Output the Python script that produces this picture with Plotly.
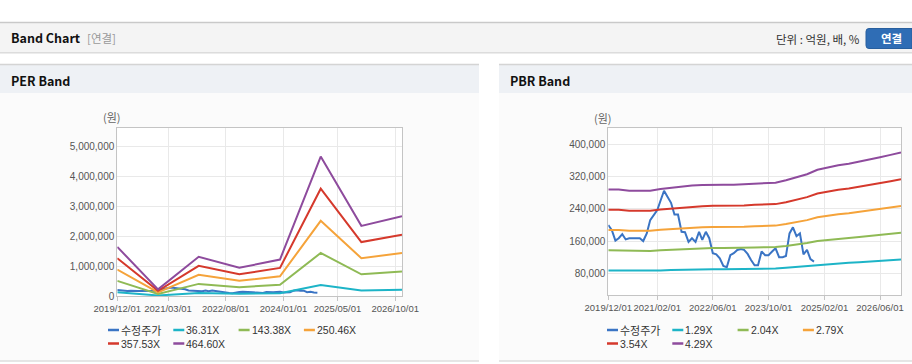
import plotly.graph_objects as go
import pandas as pd

W, H = 912, 364

# ---------------- data ----------------
per_dates = ['2019-12-01', '2020-12-01', '2021-12-01', '2022-12-01',
             '2023-12-01', '2024-12-01', '2025-12-01', '2026-12-01']
per_36_31 = [128000, 17000, 102000, 74000, 95000, 364000, 183000, 208000]
per_143_38 = [506000, 69000, 404000, 291000, 376000, 1437000, 723000, 822000]
per_250_46 = [884000, 120000, 706000, 508000, 656000, 2510000, 1262000, 1435000]
per_357_53 = [1262000, 172000, 1008000, 726000, 937000, 3582000, 1802000, 2049000]
per_464_60 = [1640000, 223000, 1310000, 943000, 1217000, 4655000, 2342000, 2662000]

price_dates = pd.date_range('2019-12-01', '2024-11-01', freq='MS').strftime('%Y-%m-%d').tolist()
price = [200000, 187000, 161000, 167000, 177000, 164000, 167000, 167000, 167000, 167000,
         160000, 179000, 212000, 226000, 237000, 260000, 285000, 270000, 255000, 226000,
         226000, 183000, 182000, 158000, 167000, 158000, 183000, 163000, 183000, 167000,
         130000, 127000, 117000, 98000, 95000, 125000, 130000, 138000, 140000, 138000,
         128000, 113000, 100000, 100000, 134000, 125000, 125000, 134000, 142000, 120000,
         120000, 123000, 179000, 194000, 172000, 179000, 127000, 138000, 115000, 109000]

pbr_dates = pd.date_range('2019-12-01', '2026-12-01', freq='3MS').strftime('%Y-%m-%d').tolist()
pbr_1_29 = [86600, 86600, 85700, 85700, 85700, 86900, 87800, 88700, 89600, 89900,
            90200, 90200, 90200, 90500, 91100, 91400, 91700, 93500, 95600, 98000,
            101300, 103100, 104600, 105800, 107300, 108900, 110700, 112500, 114300]
pbr_2_04 = [136900, 136900, 135500, 135500, 135500, 137400, 138800, 140300, 141700, 142200,
            142700, 142700, 142700, 143100, 144100, 144600, 145000, 147900, 151200, 155000,
            160200, 163100, 165500, 167400, 169800, 172100, 175000, 177800, 180700]
pbr_2_79 = [187300, 187300, 185300, 185300, 185300, 187900, 189900, 191800, 193800, 194400,
            195100, 195100, 195100, 195700, 197000, 197700, 198300, 202200, 206800, 212000,
            219200, 223100, 226300, 228900, 232200, 235400, 239300, 243200, 247100]
pbr_3_54 = [237700, 237700, 235200, 235200, 235200, 238500, 241000, 243400, 245900, 246700,
            247600, 247600, 247600, 248400, 250000, 250900, 251700, 256600, 262400, 269000,
            278100, 283000, 287200, 290500, 294600, 298700, 303700, 308600, 313600]
pbr_4_29 = [288000, 288000, 285000, 285000, 285000, 289000, 292000, 295000, 298000, 299000,
            300000, 300000, 300000, 301000, 303000, 304000, 305000, 311000, 318000, 326000,
            337000, 343000, 348000, 352000, 357000, 362000, 368000, 374000, 380000]

per_names = ['36.31X', '143.38X', '250.46X', '357.53X', '464.60X']
pbr_names = ['1.29X', '2.04X', '2.79X', '3.54X', '4.29X']
price_name = '수정주가'

per_ticks = ['2019-12-01', '2021-03-01', '2022-08-01', '2024-01-01', '2025-05-01', '2026-10-01']
pbr_ticks = ['2019-12-01', '2021-02-01', '2022-06-01', '2023-10-01', '2025-02-01', '2026-06-01']
per_yticks = [0, 1000000, 2000000, 3000000, 4000000, 5000000]
pbr_yticks = [80000, 160000, 240000, 320000, 400000]

# ---------------- styling ----------------
C_PRICE = '#3a74c4'
BAND_COLORS = ['#1db4c7', '#8fba55', '#f5a33a', '#d5392c', '#8e4b9d']
NUM_FONT = 'Liberation Sans, Arial, sans-serif'
KR_FONT = 'Noto Sans CJK KR, sans-serif'


def X(px):
    return px / W


def Y(py):
    return 1 - py / H


fig = go.Figure()

per_series = [per_36_31, per_143_38, per_250_46, per_357_53, per_464_60]
fig.add_trace(go.Scatter(x=price_dates, y=price, name=price_name, mode='lines',
                         line=dict(color=C_PRICE, width=2), xaxis='x', yaxis='y'))
for nm, vals, c in zip(per_names, per_series, BAND_COLORS):
    fig.add_trace(go.Scatter(x=per_dates, y=vals, name=nm, mode='lines',
                             line=dict(color=c, width=2), xaxis='x', yaxis='y'))

pbr_series = [pbr_1_29, pbr_2_04, pbr_2_79, pbr_3_54, pbr_4_29]
fig.add_trace(go.Scatter(x=price_dates, y=price, name=price_name, mode='lines',
                         line=dict(color=C_PRICE, width=2), xaxis='x2', yaxis='y2'))
for nm, vals, c in zip(pbr_names, pbr_series, BAND_COLORS):
    fig.add_trace(go.Scatter(x=pbr_dates, y=vals, name=nm, mode='lines',
                             line=dict(color=c, width=2), xaxis='x2', yaxis='y2'))

axis_common = dict(showline=True, mirror=True, linecolor='#c4c4c4', linewidth=1,
                   gridcolor='#e9e9e9', gridwidth=1, zeroline=False, automargin=False,
                   fixedrange=True)

per_x0, per_x1, per_y0, per_y1 = 117.3, 402, 128, 296
pbr_x0, pbr_x1, pbr_y0, pbr_y1 = 608.3, 901, 128.3, 295

xtickfont = dict(family=NUM_FONT, size=9.5, color='#555')
ytickfont = dict(family=NUM_FONT, size=10, color='#555')

fig.update_layout(
    template='none',
    width=W, height=H, margin=dict(l=0, r=0, t=0, b=0, pad=0, autoexpand=False),
    paper_bgcolor='#ffffff', plot_bgcolor='#ffffff', showlegend=False,
    xaxis=dict(domain=[X(per_x0), X(per_x1)], anchor='y', type='date',
               range=['2019-12-01', '2026-12-01'],
               tickvals=per_ticks, ticktext=[t.replace('-', '/') for t in per_ticks],
               ticks='outside', ticklen=4, tickcolor='#c4c4c4', tickangle=0,
               tickfont=xtickfont, **axis_common),
    yaxis=dict(domain=[Y(per_y1), Y(per_y0)], anchor='x', range=[0, 5610000],
               tickvals=per_yticks, ticktext=[f'{v:,}' for v in per_yticks],
               ticks='', tickfont=ytickfont, **axis_common),
    xaxis2=dict(domain=[X(pbr_x0), X(pbr_x1)], anchor='y2', type='date',
                range=['2019-12-01', '2026-12-01'],
                tickvals=pbr_ticks, ticktext=[t.replace('-', '/') for t in pbr_ticks],
                ticks='outside', ticklen=4, tickcolor='#c4c4c4', tickangle=0,
                tickfont=xtickfont, **axis_common),
    yaxis2=dict(domain=[Y(pbr_y1), Y(pbr_y0)], anchor='x2', range=[26000, 440000],
                tickvals=pbr_yticks, ticktext=[f'{v:,}' for v in pbr_yticks],
                ticks='', tickfont=ytickfont, **axis_common),
)

shapes = []


def rect(x0, y0, x1, y1, fill, line_color=None, lw=0):
    shapes.append(dict(type='rect', xref='paper', yref='paper',
                       x0=X(x0), x1=X(x1), y0=Y(y1), y1=Y(y0), layer='below',
                       fillcolor=fill,
                       line=dict(width=lw, color=line_color or fill)))


def hline(x0, x1, y, color, lw=1):
    shapes.append(dict(type='line', xref='paper', yref='paper',
                       x0=X(x0), x1=X(x1), y0=Y(y), y1=Y(y), layer='below',
                       line=dict(color=color, width=lw)))


# top header bar
rect(0, 22, W, 52, '#f4f4f4')
hline(0, W, 22.5, '#c9c9c9', 1.5)
hline(0, W, 52.5, '#dcdcdc', 1)
hline(0, W, 53.5, '#ececec', 1)

# panels
for (px0, px1) in [(0, 479), (499, W)]:
    rect(px0, 93, px1, 361, '#fbfbfb')
    rect(px0, 64, px1, 93, '#eef1f5')
    hline(px0, px1, 64.5, '#d4d4d4', 1.5)
    hline(px0, px1, 361, '#dedede', 1.5)

# plot area backgrounds (white)
rect(per_x0, per_y0, per_x1, per_y1, '#ffffff')
rect(pbr_x0, pbr_y0, pbr_x1, pbr_y1, '#ffffff')

# button (rounded)
bx0, bx1, by0, by1, r = 866, 912, 28.5, 48.5, 3
path = (f'M {X(bx0 + r)},{Y(by0)} L {X(bx1)},{Y(by0)} L {X(bx1)},{Y(by1)} '
        f'L {X(bx0 + r)},{Y(by1)} Q {X(bx0)},{Y(by1)} {X(bx0)},{Y(by1 - r)} '
        f'L {X(bx0)},{Y(by0 + r)} Q {X(bx0)},{Y(by0)} {X(bx0 + r)},{Y(by0)} Z')
shapes.append(dict(type='path', xref='paper', yref='paper', path=path, layer='below',
                   fillcolor='#2f6db5', line=dict(color='#285f9e', width=1)))

annotations = []


def text(px, py, s, size=12, color='#222', family=KR_FONT, xanchor='left'):
    annotations.append(dict(x=X(px), y=Y(py), xref='paper', yref='paper', text=s,
                            showarrow=False, xanchor=xanchor, yanchor='middle',
                            borderpad=0, font=dict(family=family, size=size, color=color)))


text(10, 38, '<b>Band Chart</b>', size=12.5, color='#111')
text(86, 38.5, '[연결]', size=11.5, color='#999')
text(861, 39, '단위 : 억원, 배, %', size=11.5, color='#333', xanchor='right')
text(891, 38.5, '<b>연결</b>', size=11.5, color='#ffffff', xanchor='center')
text(10, 80, '<b>PER Band</b>', size=12.5, color='#111')
text(509, 80, '<b>PBR Band</b>', size=12.5, color='#111')
text(112, 117.5, '(원)', size=11, color='#666', xanchor='center')
text(603, 118, '(원)', size=11, color='#666', xanchor='center')

# legends (manual, compact like the original)
per_leg = [(price_name, C_PRICE)] + list(zip(per_names, BAND_COLORS))
pbr_leg = [(price_name, C_PRICE)] + list(zip(pbr_names, BAND_COLORS))
for base, items in [(108, per_leg), (607, pbr_leg)]:
    for i, (nm, c) in enumerate(items):
        row, col = divmod(i, 4)
        lx = base + col * 65.3
        ly = 330 if row == 0 else 343.5
        shapes.append(dict(type='line', xref='paper', yref='paper',
                           x0=X(lx), x1=X(lx + 11), y0=Y(ly), y1=Y(ly),
                           line=dict(color=c, width=2.5)))
        text(lx + 12, ly, nm, size=11 if nm == price_name else 10.5, color='#333',
             family=(KR_FONT if nm == price_name else NUM_FONT))

fig.update_layout(shapes=shapes, annotations=annotations)
fig.write_html('out.html', config={'displayModeBar': False, 'responsive': False},
               post_script="document.body.style.margin='0';document.body.style.overflow='hidden';")
